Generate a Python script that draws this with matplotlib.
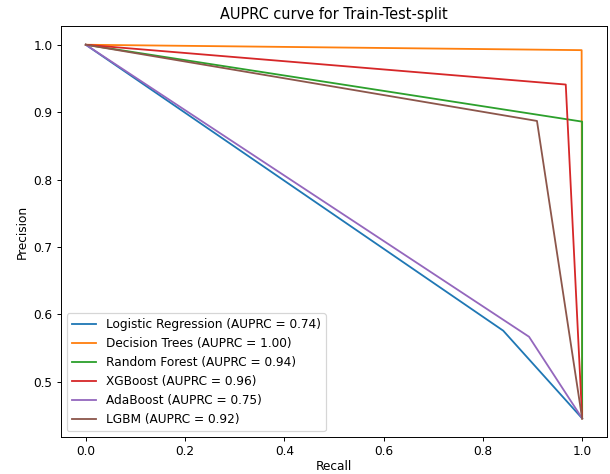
import matplotlib
matplotlib.use("Agg")
import matplotlib.pyplot as plt


# ten mo hinh va diem AUPRC trong chu thich
models = ["Logistic Regression", "Decision Trees", "Random Forest",
          "XGBoost", "AdaBoost", "LGBM"]
auprc = [0.74, 1.00, 0.94, 0.96, 0.75, 0.92]

# moi duong co 3 diem: (0, 1), diem gay, (1, ti le lop duong)
recall_knee = [0.841, 0.999, 1.0, 0.967, 0.893, 0.909]
precision_knee = [0.576, 0.992, 0.886, 0.941, 0.567, 0.887]
baseline = 0.446

DPI = 87


def ve_bieu_do():
    fig = plt.figure(figsize=(610 / DPI, 474 / DPI), dpi=DPI)
    ax = fig.add_axes([0.1, 0.078, 0.895, 0.867])

    for name, score, r, p in zip(models, auprc, recall_knee, precision_knee):
        recall = [0.0, r, 1.0]
        precision = [1.0, p, baseline]
        ax.plot(recall, precision, label=f"{name} (AUPRC = {score:.2f})")

    ax.set_title("AUPRC curve for Train-Test-split")
    ax.set_xlabel("Recall", labelpad=1)
    ax.set_ylabel("Precision")
    ax.legend(loc="lower left")

    fig.savefig("out.png", dpi=DPI)


if __name__ == "__main__":
    ve_bieu_do()
